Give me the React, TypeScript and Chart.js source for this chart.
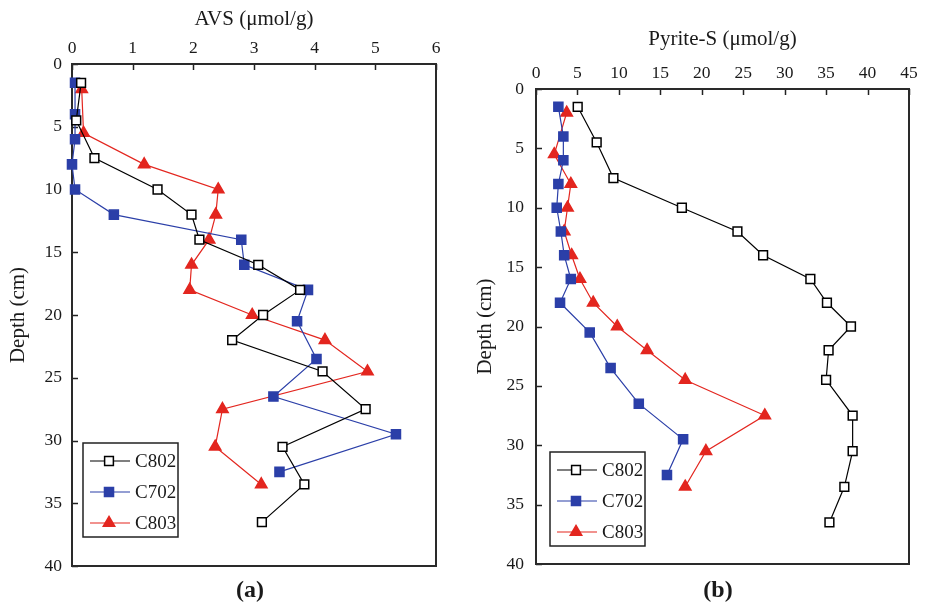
import React, { useEffect, useRef } from "react";
import { Chart, registerables } from "chart.js";
Chart.register(...registerables);

// ---------- data ----------
const seriesNames = ["C802", "C702", "C803"];

const depthC802 = [1.5, 4.5, 7.5, 10, 12, 14, 16, 18, 20, 22, 24.5, 27.5, 30.5, 33.5, 36.5];
const depthC702 = [1.5, 4, 6, 8, 10, 12, 14, 16, 18, 20.5, 23.5, 26.5, 29.5, 32.5];
const depthC803 = [2, 5.5, 8, 10, 12, 14, 16, 18, 20, 22, 24.5, 27.5, 30.5, 33.5];

const avsC802 = [0.15, 0.07, 0.37, 1.41, 1.97, 2.1, 3.07, 3.76, 3.15, 2.64, 4.13, 4.84, 3.47, 3.83, 3.13];
const avsC702 = [0.05, 0.05, 0.05, 0.0, 0.05, 0.69, 2.79, 2.84, 3.89, 3.71, 4.03, 3.32, 5.34, 3.42];
const avsC803 = [0.16, 0.19, 1.19, 2.41, 2.37, 2.26, 1.97, 1.94, 2.97, 4.17, 4.87, 2.48, 2.36, 3.12];

const pyrC802 = [5.03, 7.32, 9.34, 17.6, 24.3, 27.4, 33.1, 35.1, 38.0, 35.3, 35.0, 38.2, 38.2, 37.2, 35.4];
const pyrC702 = [2.7, 3.3, 3.3, 2.7, 2.5, 3.0, 3.4, 4.2, 2.9, 6.48, 9.0, 12.4, 17.75, 15.8];
const pyrC803 = [3.7, 2.2, 4.2, 3.8, 3.4, 4.3, 5.3, 6.9, 9.8, 13.4, 18.0, 27.6, 20.5, 18.0];

const depthMin = 0;
const depthMax = 40;
const depthStep = 5;

// ---------- styles ----------
const FONT = "'Liberation Serif', 'Times New Roman', serif";
const BLACK = "#000000";
const BLUE = "#2b3fa8";
const RED = "#e3261f";
const TEXT = "#1a1a1a";

const seriesStyles = [
  { color: BLACK, fill: "#ffffff", style: "rect", radius: 6.2 },
  { color: BLUE, fill: BLUE, style: "rect", radius: 6.4 },
  { color: RED, fill: RED, style: "triangle", radius: 6.6 },
];

function zip(xs: number[], ys: number[]) {
  return xs.map((x, i) => ({ x, y: ys[i] }));
}

function drawMarker(ctx: CanvasRenderingContext2D, style: string, x: number, y: number, r: number, fill: string, stroke: string, lw: number) {
  ctx.beginPath();
  if (style === "rect") {
    const s = Math.SQRT1_2 * r;
    ctx.rect(x - s, y - s, 2 * s, 2 * s);
  } else {
    let rad = 0;
    ctx.moveTo(x + Math.sin(rad) * r, y - Math.cos(rad) * r);
    rad += (2 * Math.PI) / 3;
    ctx.lineTo(x + Math.sin(rad) * r, y - Math.cos(rad) * r);
    rad += (2 * Math.PI) / 3;
    ctx.lineTo(x + Math.sin(rad) * r, y - Math.cos(rad) * r);
    ctx.closePath();
  }
  ctx.fillStyle = fill;
  ctx.fill();
  ctx.lineWidth = lw;
  ctx.strokeStyle = stroke;
  ctx.stroke();
}

const framePlugin = {
  id: "frame",
  beforeDatasetsDraw(chart: any) {
    const { ctx, chartArea: a, scales } = chart;
    ctx.save();
    ctx.strokeStyle = "#222";
    ctx.lineWidth = 1.5;
    const tl = 6;
    scales.x.ticks.forEach((t: any) => {
      const px = Math.round(scales.x.getPixelForValue(t.value)) + 0.5;
      ctx.beginPath();
      ctx.moveTo(px, a.top);
      ctx.lineTo(px, a.top + tl);
      ctx.stroke();
    });
    scales.y.ticks.forEach((t: any) => {
      const py = Math.round(scales.y.getPixelForValue(t.value)) + 0.5;
      ctx.beginPath();
      ctx.moveTo(a.left, py);
      ctx.lineTo(a.left + tl, py);
      ctx.stroke();
    });
    ctx.lineWidth = 2;
    ctx.strokeStyle = "#2a2a2a";
    ctx.strokeRect(a.left, a.top, a.right - a.left, a.bottom - a.top);
    ctx.restore();
  },
  afterDatasetsDraw(chart: any, _args: any, opts: any) {
    const { ctx, chartArea: a } = chart;
    const bx = a.left + opts.dx;
    const bh = 94;
    const bw = 95;
    const by = a.bottom - opts.dy - bh;
    ctx.save();
    ctx.fillStyle = "#fff";
    ctx.fillRect(bx, by, bw, bh);
    ctx.strokeStyle = "#222";
    ctx.lineWidth = 1.5;
    ctx.strokeRect(bx, by, bw, bh);
    chart.data.datasets.forEach((ds: any, i: number) => {
      const st = seriesStyles[i];
      const y = by + 18 + i * 31;
      ctx.beginPath();
      ctx.moveTo(bx + 7, y);
      ctx.lineTo(bx + 47, y);
      ctx.strokeStyle = st.color;
      ctx.lineWidth = 1.2;
      ctx.stroke();
      drawMarker(ctx, st.style, bx + 26, y, st.radius, st.fill, st.color, 1.5);
      ctx.fillStyle = TEXT;
      ctx.font = `19px ${FONT}`;
      ctx.textBaseline = "middle";
      ctx.textAlign = "left";
      ctx.fillText(ds.label, bx + 52, y + 1);
    });
    ctx.restore();
  },
};

type PanelProps = {
  left: number;
  xTitle: string;
  xMax: number;
  xStep: number;
  series: number[][];
  depths: number[][];
  topH: number;
  titleTop: number;
  leftW: number;
  padRight: number;
  padBottom: number;
  yTitleTop: number;
  yTickPad: number;
  legendDx: number;
  legendDy: number;
};

function Panel(p: PanelProps) {
  const ref = useRef<HTMLCanvasElement>(null);
  useEffect(() => {
    if (!ref.current) return;
    const chart = new Chart(ref.current, {
      type: "line",
      data: {
        datasets: seriesNames.map((name, i) => ({
          label: name,
          data: zip(p.series[i], p.depths[i]),
          borderColor: seriesStyles[i].color,
          borderWidth: 1.2,
          pointStyle: seriesStyles[i].style,
          pointRadius: seriesStyles[i].radius,
          pointBackgroundColor: seriesStyles[i].fill,
          pointBorderColor: seriesStyles[i].color,
          pointBorderWidth: 1.5,
          tension: 0,
          clip: false,
        })),
      },
      options: {
        responsive: false,
        animation: false,
        layout: { padding: { left: 0, top: 0, right: p.padRight, bottom: p.padBottom } },
        plugins: {
          legend: { display: false },
          tooltip: { enabled: false },
          frame: { dx: p.legendDx, dy: p.legendDy },
        } as any,
        scales: {
          x: {
            type: "linear",
            position: "top",
            min: 0,
            max: p.xMax,
            ticks: { stepSize: p.xStep, color: TEXT, font: { family: FONT, size: 17.5 }, padding: 5 },
            grid: { display: false, drawTicks: false },
            border: { display: false },
            title: {
              display: true,
              text: p.xTitle,
              color: TEXT,
              font: { family: FONT, size: 21 },
              padding: { top: p.titleTop, bottom: 0 },
            },
            afterFit: (s: any) => {
              s.height = p.topH;
            },
          },
          y: {
            type: "linear",
            reverse: true,
            min: depthMin,
            max: depthMax,
            ticks: { stepSize: depthStep, color: TEXT, font: { family: FONT, size: 17.5 }, padding: p.yTickPad },
            grid: { display: false, drawTicks: false },
            border: { display: false },
            title: {
              display: true,
              text: "Depth (cm)",
              color: TEXT,
              font: { family: FONT, size: 21 },
              padding: { top: p.yTitleTop, bottom: 0 },
            },
            afterFit: (s: any) => {
              s.width = p.leftW;
            },
          },
        },
      } as any,
      plugins: [framePlugin as any],
    });
    return () => chart.destroy();
  }, []);
  return (
    <canvas
      ref={ref}
      width={463}
      height={607}
      style={{ position: "absolute", left: p.left, top: 0, width: 463, height: 607 }}
    />
  );
}

export default function App() {
  return (
    <div style={{ position: "absolute", left: 0, top: 0, width: 926, height: 607, background: "#fff", overflow: "hidden" }}>
      <Panel
        left={0}
        xTitle="AVS (μmol/g)"
        xMax={6}
        xStep={1}
        series={[avsC802, avsC702, avsC803]}
        depths={[depthC802, depthC702, depthC803]}
        topH={64}
        titleTop={7}
        leftW={72}
        padRight={27}
        padBottom={41}
        yTitleTop={6}
        yTickPad={10}
        legendDx={11}
        legendDy={29}
      />
      <Panel
        left={463}
        xTitle="Pyrite-S (μmol/g)"
        xMax={45}
        xStep={5}
        series={[pyrC802, pyrC702, pyrC803]}
        depths={[depthC802, depthC702, depthC803]}
        topH={89}
        titleTop={27}
        leftW={73}
        padRight={17}
        padBottom={43}
        yTitleTop={10}
        yTickPad={12}
        legendDx={14}
        legendDy={18}
      />
      <div style={{ position: "absolute", left: 230, top: 576, width: 40, textAlign: "center", font: `bold 24px ${FONT}`, color: TEXT }}>(a)</div>
      <div style={{ position: "absolute", left: 698, top: 576, width: 40, textAlign: "center", font: `bold 24px ${FONT}`, color: TEXT }}>(b)</div>
    </div>
  );
}
